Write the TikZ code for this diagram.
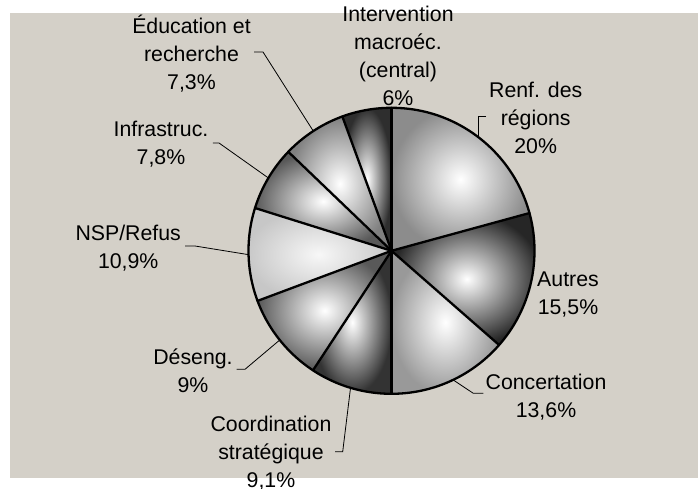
\documentclass[tikz,border=0pt]{standalone}
\usepackage{fontspec}
\setmainfont{Liberation Sans}
\usetikzlibrary{calc}
\definecolor{bgc}{RGB}{212,208,200}
\begin{document}
\begin{tikzpicture}[x=1pt,y=1pt,
  lbl/.style={align=center, anchor=base, inner sep=0pt, font=\fontsize{21.3}{28}\selectfont},
  leader/.style={line width=0.8pt, line join=miter},
  edgeline/.style={line width=2.3pt, line cap=round, line join=round}]
\useasboundingbox (0,0) rectangle (698,489);
\fill[bgc] (10,11) rectangle (698,476);
\coordinate (c) at (391.5,238.2);
\def\R{143}
\newcommand\pieslice[4]{\shade[inner color=#3, outer color=#4] (c) -- ($(c)+(#1:\R)$) arc[start angle=#1, end angle=#2, radius=\R] -- cycle;}
% slices
\pieslice{15.3}{90}{white}{black!45}
\pieslice{-41.2}{15.3}{white}{black!85}
\pieslice{-90}{-41.2}{white}{black!40}
\pieslice{-123.3}{-90}{white}{black!80}
\pieslice{-159.5}{-123.3}{white}{black!65}
\pieslice{162.6}{200.5}{black!3}{black!22}
\pieslice{136.2}{162.6}{white}{black!65}
\pieslice{110.1}{136.2}{white}{black!50}
\pieslice{90}{110.1}{white}{black!82}
% outlines
\foreach \a in {90,15.3,-41.2,-90,-123.3,-159.5,162.6,136.2,110.1}
  \draw[edgeline] (c) -- ($(c)+(\a:\R)$);
\draw[line width=2.3pt] (c) circle[radius=\R];
% labels (anchor = baseline of last line)
\node[lbl] (educ) at (191.5,399.7) {Éducation et\\recherche\\7,3\%};
\node[lbl] (interv) at (398,383) {Intervention\\macroéc.\\(central)\\6\%};
\node[lbl] (renf) at (535.7,335.7) {Renf. des\\régions\\20\%};
\node[lbl] (autres) at (568,174) {Autres\\15,5\%};
\node[lbl] (conc) at (546,71) {Concertation\\13,6\%};
\node[lbl] (coord) at (271,1) {Coordination\\stratégique\\9,1\%};
\node[lbl] (deseng) at (193,96.5) {Déseng.\\9\%};
\node[lbl] (nsp) at (128.2,220.2) {NSP/Refus\\10,9\%};
\node[lbl] (infra) at (161,324.3) {Infrastruc.\\7,8\%};
% leader anchors
\coordinate (pEduc) at ($(c)+(123.15:\R)$);
\coordinate (pRenf) at ($(c)+(52.65:\R)$);
\coordinate (pConc) at ($(c)+(-64.5:\R)$);
\coordinate (pCoord) at ($(c)+(-106.65:\R)$);
\coordinate (pDes) at ($(c)+(-141.4:\R)$);
\coordinate (pNsp) at ($(c)+(181.55:\R)$);
\coordinate (pInfra) at ($(c)+(149.4:\R)$);
\coordinate (tEduc) at (254,437);
\coordinate (tRenf) at (486,372.3);
\coordinate (tConc) at (483.3,95.7);
\coordinate (tCoord) at (335,37.3);
\coordinate (tDes) at (236.7,119.7);
\coordinate (tNsp) at (185,243);
\coordinate (tInfra) at (212.8,346);
% leaders
\draw[leader] (tEduc) -- ++(9,0) -- (pEduc);
\draw[leader] (tRenf) -| (pRenf);
\draw[leader] (tConc) -- ++(-10,0) -- (pConc);
\draw[leader] (tCoord) -- ++(7.7,0) -- (pCoord);
\draw[leader] (tDes) -- ++(8.3,0) -- (pDes);
\draw[leader] (tNsp) -- ++(10,0) -- (pNsp);
\draw[leader] (tInfra) -- ++(6.2,0) -- (pInfra);
\end{tikzpicture}
\end{document}
